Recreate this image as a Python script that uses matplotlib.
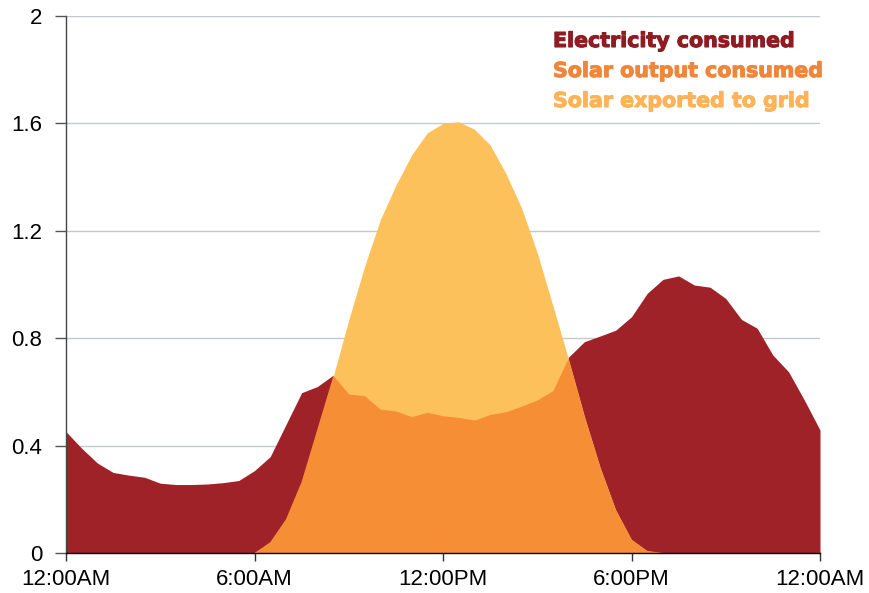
import numpy as np
import matplotlib
matplotlib.use("Agg")
import matplotlib.pyplot as plt
import matplotlib.patheffects as pe

# half-hour samples over one day (hours)
hours = np.arange(0, 24.5, 0.5)

consumption = [0.452, 0.39, 0.335, 0.30, 0.29, 0.282, 0.26, 0.255, 0.255, 0.257,
               0.262, 0.27, 0.307, 0.359, 0.478, 0.597, 0.62, 0.662, 0.592, 0.586,
               0.536, 0.529, 0.508, 0.524, 0.511, 0.505, 0.495, 0.516, 0.526, 0.547,
               0.57, 0.605, 0.73, 0.787, 0.808, 0.83, 0.88, 0.967, 1.019, 1.032,
               0.998, 0.99, 0.948, 0.87, 0.837, 0.737, 0.675, 0.57, 0.458]

solar = [0, 0, 0, 0, 0, 0, 0, 0, 0, 0,
         0, 0, 0, 0.04, 0.125, 0.265, 0.46, 0.655, 0.868, 1.066,
         1.24, 1.37, 1.482, 1.565, 1.60, 1.606, 1.578, 1.52, 1.414, 1.285,
         1.118, 0.92, 0.72, 0.51, 0.32, 0.16, 0.05, 0.008, 0, 0,
         0, 0, 0, 0, 0, 0, 0, 0, 0]

tick_hours = [0, 6, 12, 18, 24]
tick_labels = ['12:00AM', '6:00AM', '12:00PM', '6:00PM', '12:00AM']
y_ticks = [0, 0.4, 0.8, 1.2, 1.6, 2]
y_labels = ['0', '0.4', '0.8', '1.2', '1.6', '2']
legend_labels = ['Electricity consumed', 'Solar output consumed', 'Solar exported to grid']

c_red = '#9F2228'
c_orange = '#F58E34'
c_light = '#FDC15C'
text_colors = ['#8E1C22', '#F0863A', '#FDB356']

plt.rcParams['font.family'] = ['Liberation Sans', 'DejaVu Sans']

fig = plt.figure(figsize=(8.69, 5.93), dpi=100)
ax = fig.add_axes([66/869, 1-553/593, (820-66)/869, (553-16)/593])

ax.fill_between(hours, 0, consumption, color=c_red, lw=0, zorder=2)
solar_poly = ax.fill_between(hours, 0, solar, color=c_light, lw=0, zorder=3)
cons_poly = ax.fill_between(hours, 0, consumption, color=c_orange, lw=0, zorder=4)
# solar output that was consumed = overlap of solar and consumption
clip_path = solar_poly.get_paths()[0]
cons_poly.set_clip_path(clip_path, solar_poly.get_transform())

ax.set_xlim(0, 24)
ax.set_ylim(0, 2)
ax.set_xticks(tick_hours)
ax.set_xticklabels(tick_labels)
ax.set_yticks(y_ticks)
ax.set_yticklabels(y_labels)
ax.tick_params(axis='both', labelsize=16, colors='black', direction='out')
ax.tick_params(axis='x', length=6, width=1, pad=5.5, color='#333333')
ax.tick_params(axis='y', length=8, width=1, pad=9, color='#555555')

ax.grid(axis='y', color='#C4C8CF', lw=1.0, zorder=1)
ax.set_axisbelow(True)
for s in ['top', 'right']:
    ax.spines[s].set_visible(False)
ax.spines['left'].set_color('#444444')
ax.spines['left'].set_linewidth(1.0)
ax.spines['bottom'].set_color('black')
ax.spines['bottom'].set_linewidth(1.0)
ax.spines['left'].set_zorder(6)
ax.spines['bottom'].set_zorder(6)

y_pos = [41, 71, 101]
for lab, col, yp in zip(legend_labels, text_colors, y_pos):
    fig.text(553/869, 1 - yp/593, lab, color=col, fontsize=14.8, fontweight='bold',
             family=['DejaVu Sans'], ha='left', va='center',
             path_effects=[pe.withStroke(linewidth=0.8, foreground=col)])

fig.savefig('out.png', dpi=100)
